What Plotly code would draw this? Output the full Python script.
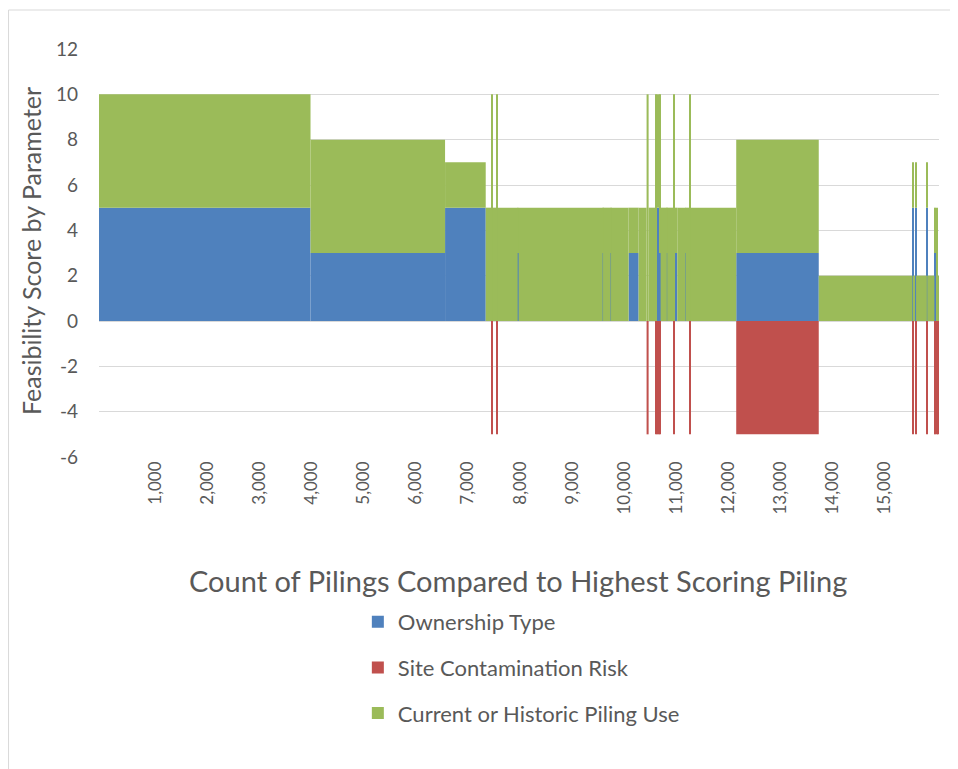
import plotly.graph_objects as go

# Piling rank ranges (sorted by total score) and the score of each parameter
seg_start = [0, 4058, 6639, 7419, 7534, 7553, 7620, 7639, 8032, 8051,
             9662, 9670, 9815, 9823, 10160, 10352, 10505, 10544, 10678, 10697,
             10755, 10774, 10894, 10900, 11023, 11042, 11094, 11247, 11253, 11335,
             11341, 12225, 13808, 15604, 15624, 15656, 15675, 15882, 15890, 16026,
             16059, 16078]
seg_end = seg_start[1:] + [16112]

ownership = [5, 3, 5, 0, 0, 0, 0, 0, 3, 0,
             3, 0, 3, 0, 3, 0, 0, 0, 0, 5,
             3, 0, 3, 0, 0, 3, 0, 3, 0, 0,
             0, 3, 0, 5, 0, 5, 0, 5, 0, 3,
             0, 0]
contamination = [0, 0, 0, 0, -5, 0, -5, 0, 0, 0,
                 0, 0, 0, 0, 0, 0, -5, 0, -5, -5,
                 -5, 0, 0, 0, -5, 0, 0, 0, 0, -5,
                 0, -5, 0, -5, 0, -5, 0, -5, 0, -5,
                 -5, -5]
piling_use = [5, 5, 2, 5, 10, 5, 10, 5, 2, 5,
              2, 5, 2, 5, 2, 5, 10, 5, 10, 5,
              7, 5, 2, 5, 10, 2, 5, 2, 5, 10,
              5, 5, 2, 2, 2, 2, 2, 2, 2, 2,
              5, 2]

x_ticks = [1000, 2000, 3000, 4000, 5000, 6000, 7000, 8000,
           9000, 10000, 11000, 12000, 13000, 14000, 15000]
x_tick_labels = ["1,000", "2,000", "3,000", "4,000", "5,000", "6,000", "7,000", "8,000",
                 "9,000", "10,000", "11,000", "12,000", "13,000", "14,000", "15,000"]
y_ticks = [-6, -4, -2, 0, 2, 4, 6, 8, 10, 12]
y_tick_labels = ["-6", "-4", "-2", "0", "2", "4", "6", "8", "10", "12"]

mid = [(a + b) / 2 for a, b in zip(seg_start, seg_end)]
widths = [b - a for a, b in zip(seg_start, seg_end)]

FONT = "Lato, 'Open Sans', sans-serif"
GREY = "#595959"

# page has an 8px body margin; work in page pixels and shift
OFF = 8
FIG_W, FIG_H = 958 - OFF, 769 - OFF
# plot-area box in page pixels (Excel layout)
L, R, T, B = 99, 939.5, 49, 457
W, H = R - L, B - T


def px_x(p):
    return (p - L) / W


def px_y(p):
    return (B - p) / H


fig = go.Figure()
series = [("Ownership Type", ownership, "#4F81BD"),
          ("Site Contamination Risk", contamination, "#C0504D"),
          ("Current or Historic Piling Use", piling_use, "#9BBB59")]
for name, vals, color in series:
    fig.add_trace(go.Bar(
        x=mid, y=vals, width=widths, name=name, legendgroup=name,
        marker=dict(color=color, line=dict(width=0)),
    ))

fig.update_layout(
    width=FIG_W, height=FIG_H,
    margin=dict(l=L - OFF, r=FIG_W - (R - OFF), t=T - OFF, b=FIG_H - (B - OFF)),
    paper_bgcolor="white", plot_bgcolor="white",
    barmode="relative",
    font=dict(family=FONT, color=GREY),
    showlegend=True,
    legend=dict(
        x=px_x(358), y=px_y(601), xanchor="left", yanchor="top",
        font=dict(size=22, color=GREY), tracegroupgap=14,
        traceorder="grouped",
    ),
    xaxis=dict(
        range=[0, 16115], tickvals=x_ticks, ticktext=x_tick_labels,
        tickangle=-90, showgrid=False, zeroline=False, showline=False,
        ticks="", tickfont=dict(size=17, color=GREY),
        ticklabelshift=4,
    ),
    yaxis=dict(
        range=[-6, 12], tickvals=y_ticks, ticktext=y_tick_labels, showgrid=True,
        gridcolor="#D9D9D9", gridwidth=1, zeroline=False, showline=False,
        ticks="", tickfont=dict(size=19, color=GREY),
        ticklabelstandoff=20,
    ),
    annotations=[
        dict(text="Feasibility Score by Parameter", textangle=-90,
             xref="paper", yref="paper", x=px_x(31), y=px_y(251),
             xanchor="center", yanchor="middle",
             showarrow=False, font=dict(size=25, color=GREY)),
        dict(text="Count of Pilings Compared to Highest Scoring Piling",
             xref="paper", yref="paper", x=px_x(518), y=px_y(580),
             xanchor="center", yanchor="middle",
             showarrow=False, font=dict(size=29, color=GREY)),
    ],
    shapes=[
        # chart-area border (only left and top edges fall inside the page)
        dict(type="rect", xref="paper", yref="paper",
             x0=px_x(8.5), x1=px_x(980), y0=px_y(800), y1=px_y(10),
             line=dict(color="#D9D9D9", width=1), layer="below"),
    ],
)

fig.write_html("out.html")
